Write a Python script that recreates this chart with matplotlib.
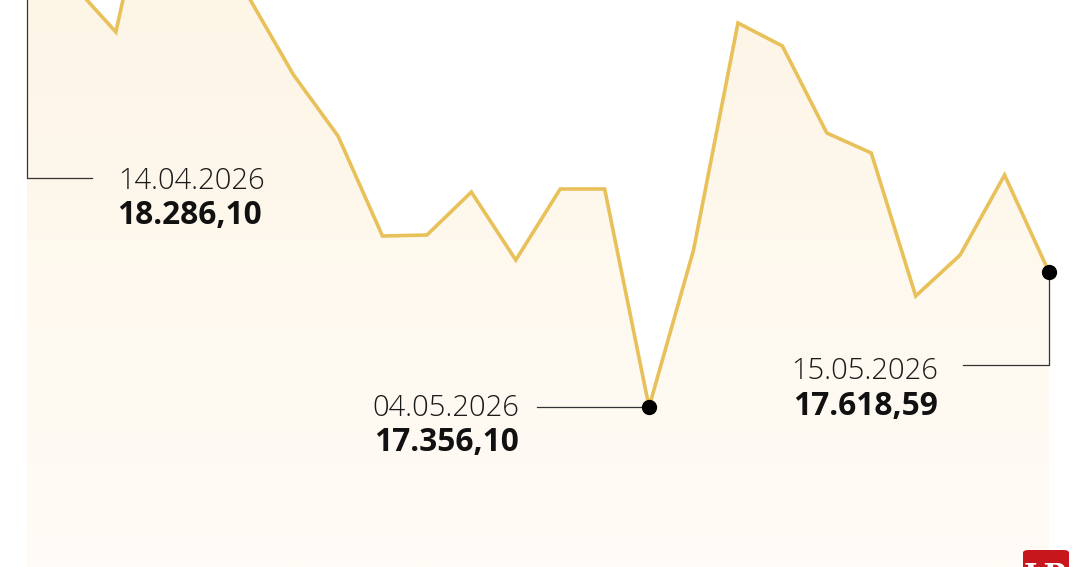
import numpy as np
import matplotlib
matplotlib.use('Agg')
import matplotlib.pyplot as plt
from matplotlib.patches import FancyBboxPatch
from matplotlib.colors import LinearSegmentedColormap

# datos (cierre diario)
fechas = ['14.04.2026', '15.04.2026', '16.04.2026', '17.04.2026', '20.04.2026', '21.04.2026',
          '22.04.2026', '23.04.2026', '24.04.2026', '27.04.2026', '28.04.2026', '29.04.2026',
          '30.04.2026', '01.05.2026', '04.05.2026', '05.05.2026', '06.05.2026', '07.05.2026',
          '08.05.2026', '11.05.2026', '12.05.2026', '13.05.2026', '14.05.2026', '15.05.2026']
valores = [18286.10, 18180.5, 18085.3, 18478.0, 18341.9, 18151.4,
           18001.6, 17883.0, 17688.6, 17690.5, 17774.1, 17641.9,
           17780.0, 17780.0, 17356.10, 17661.4, 18102.8, 18058.0,
           17888.9, 17850.0, 17571.9, 17651.7, 17807.2, 17618.59]
etiquetas = ['18.286,10', '17.356,10', '17.618,59']

x = np.arange(len(valores))
y = np.array(valores)
i_min = int(np.argmin(y))
i_ult = len(y) - 1

W, H = 1080, 567
fig = plt.figure(figsize=(W / 100, H / 100), dpi=100)
ax = fig.add_axes([0, 0, 1, 1])
ax.set_axis_off()

# escala: 44.43 px por dia, 1.9444 unidades por px
px_x = 44.435
px_y = 1.9444
x0 = -27 / px_x
x1 = x0 + W / px_x
y_top = y[i_min] + 407 * px_y
y_bot = y_top - H * px_y
ax.set_xlim(x0, x1)
ax.set_ylim(y_bot, y_top)

dx = px_x ** -1   # unidades x por pixel
dy = px_y         # unidades y por pixel

# relleno con degradado
cmap = LinearSegmentedColormap.from_list('crema', ['#fffcf7', '#fdf3e1'])
grad = np.linspace(0, 1, 256).reshape(-1, 1)
img = ax.imshow(grad, cmap=cmap, aspect='auto', origin='lower',
                extent=[x[0], x[-1], y_bot, y.max()], zorder=1)
poly = ax.fill_between(x, y, y_bot, facecolor='none', edgecolor='none')
img.set_clip_path(poly.get_paths()[0], transform=ax.transData)

ax.plot(x, y, color='#e8c15a', lw=2.6, solid_joinstyle='miter', zorder=3)

fuente_fecha = dict(family='Open Sans', fontweight='light', fontsize=21, color='#1a1a1a')
fuente_valor = dict(family='Open Sans', fontweight='bold', fontsize=22.8, color='#111111')
linea = dict(color='#333333', lw=0.9, zorder=2)

# 1) primer dato (fuera de cuadro arriba)
px0, py0 = x[0], y[0]
ax.plot([px0, px0, px0 + 65 * dx], [py0, py0 - 249 * dy, py0 - 249 * dy], **linea)
ax.text(px0 + 91 * dx, py0 - 253 * dy, fechas[0], ha='left', va='center', **fuente_fecha)
ax.text(px0 + 90 * dx, py0 - 287 * dy, etiquetas[0], ha='left', va='center', **fuente_valor)

# 2) minimo
pxm, pym = x[i_min], y[i_min]
ax.plot([pxm - 112 * dx, pxm], [pym, pym], **linea)
ax.plot(pxm, pym, 'o', color='black', ms=10, zorder=4)
ax.text(pxm - 130 * dx, pym - 1 * dy, fechas[i_min], ha='right', va='center', **fuente_fecha)
ax.text(pxm - 130 * dx, pym - 35 * dy, etiquetas[1], ha='right', va='center', **fuente_valor)

# 3) ultimo dato
pxu, pyu = x[i_ult], y[i_ult]
ax.plot([pxu, pxu, pxu - 86 * dx], [pyu, pyu - 93 * dy, pyu - 93 * dy], **linea)
ax.plot(pxu, pyu, 'o', color='black', ms=10, zorder=4)
ax.text(pxu - 111 * dx, pyu - 99 * dy, fechas[i_ult], ha='right', va='center', **fuente_fecha)
ax.text(pxu - 111 * dx, pyu - 134 * dy, etiquetas[2], ha='right', va='center', **fuente_valor)

# logo LR abajo a la derecha (cortado por el borde, como en el original)
logo = FancyBboxPatch((1023 / W, -40 / H), 46 / W, 57 / H, transform=fig.transFigure,
                      boxstyle='round,pad=0,rounding_size=0.005', facecolor='#c8161d',
                      edgecolor='none', zorder=5)
fig.patches.append(logo)
fig.text(1046 / W, 1 - 562 / H, 'LR', ha='center', va='top', color='white', fontsize=21,
         fontweight='bold', family='DejaVu Serif', zorder=6)

fig.savefig('out.png', dpi=100, facecolor='white')
